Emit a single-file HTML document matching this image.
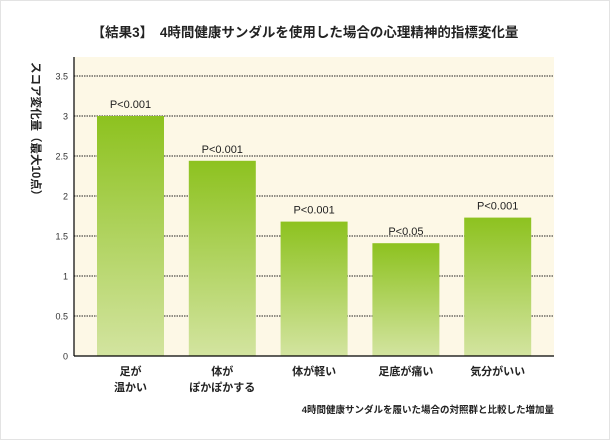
<!DOCTYPE html>
<html><head><meta charset="utf-8"><style>
body{margin:0;width:610px;height:440px;background:#fff;overflow:hidden}
svg{display:block}
text{font-family:"Liberation Sans","Noto Sans CJK JP",sans-serif}
</style></head><body>
<svg id="chart" width="610" height="440" viewBox="0 0 610 440">
<defs><linearGradient id="g" x1="0" y1="0" x2="0" y2="1"><stop offset="0" stop-color="#8dc21f"/><stop offset="1" stop-color="#d3e4a0"/></linearGradient></defs>
<rect x="0.5" y="0.5" width="609" height="439" fill="#fff" stroke="#e3e3e3"/>
<text x="305" y="37" text-anchor="middle" font-size="13.5" font-weight="bold" fill="#222">【結果3】　4時間健康サンダルを使用した場合の心理精神的指標変化量</text>
<rect x="74" y="57" width="480" height="299" fill="#fdf8e6"/>
<g id="grid"></g><g id="bars"></g><g id="labels"></g>
<line x1="74" y1="57" x2="74" y2="356" stroke="#000" stroke-width="1.2"/>
<line x1="74" y1="356" x2="554" y2="356" stroke="#000" stroke-width="1.2"/>
<text font-size="11.5" font-weight="bold" fill="#222" transform="translate(32,62) rotate(90)">スコア変化量（最大10点）</text>
<text x="554" y="413" text-anchor="end" font-size="9.5" font-weight="bold" fill="#222">4時間健康サンダルを履いた場合の対照群と比較した増加量</text>
</svg>
<script>
const categories=[["足が","温かい"],["体が","ぽかぽかする"],["体が軽い"],["足底が痛い"],["気分がいい"]];
const values=[3.0,2.44,1.68,1.41,1.73];
const pLabels=["P<0.001","P<0.001","P<0.001","P<0.05","P<0.001"];
const ticks=[0,0.5,1,1.5,2,2.5,3,3.5];
const tickLabels=["0","0.5","1","1.5","2","2.5","3","3.5"];
const NS="http://www.w3.org/2000/svg";
const y=v=>356-v*80;
const bandX=i=>74+i*91.8+23;
const bw=67;
function mk(t,a,p){const e=document.createElementNS(NS,t);for(const k in a)e.setAttribute(k,a[k]);p.appendChild(e);return e;}
const G=document.getElementById('grid'),B=document.getElementById('bars'),L=document.getElementById('labels');
ticks.forEach((t,i)=>{
 if(t>0){const l=mk('line',{x1:74,x2:554,y1:y(t),y2:y(t),stroke:'#222','stroke-width':1,'stroke-dasharray':'1.5,1'},G);
 
 }
 const tx=mk('text',{x:68,y:y(t)+3.5,'text-anchor':'end','font-size':9,fill:'#333'},L);tx.textContent=tickLabels[i];
 
 
});
values.forEach((v,i)=>{
 const r=mk('rect',{x:bandX(i),y:y(v),width:bw,height:356-y(v),fill:'url(#g)'},B);
 
 
 const p=mk('text',{x:bandX(i)+bw/2,y:y(v)-8,'text-anchor':'middle','font-size':11,fill:'#222'},L);p.textContent=pLabels[i];
 
 
 categories[i].forEach((c,j)=>{
  const t=mk('text',{x:bandX(i)+bw/2,y:375+j*16,'text-anchor':'middle','font-size':11,'font-weight':'bold',fill:'#222'},L);t.textContent=c;
  
  
 });
});
</script>
</body></html>
